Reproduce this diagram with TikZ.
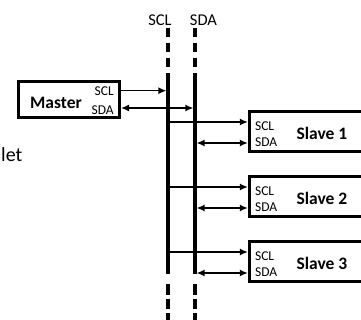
\documentclass[tikz,border=0pt]{standalone}
\usepackage{fontspec}
\setmainfont{Carlito}
\usetikzlibrary{arrows.meta,positioning}

\begin{document}
\begin{tikzpicture}[x=1pt, y=-1pt, node distance=22.5pt,
  box/.style={draw, line width=3pt, minimum width=116pt, minimum height=39.5pt, inner sep=0pt},
  port/.style={font=\fontsize{13.5}{15}\selectfont, inner sep=0pt},
  title/.style={font=\fontsize{17.5}{20}\selectfont\bfseries, inner sep=0pt},
  busname/.style={font=\fontsize{16.5}{18}\selectfont, inner sep=0pt, anchor=base},
  bus/.style={line width=3.2pt},
  sig/.style={line width=1.5pt, -{Latex[length=8pt,width=7pt]}},
  bidir/.style={line width=1.5pt, {Latex[length=8pt,width=7pt]}-{Latex[length=8pt,width=7pt]}}]
\useasboundingbox (0,0) rectangle (361,320);
\clip (0,0) rectangle (361,320);

% bus lines
\node[busname] (sclname) at (160,26) {SCL};
\node[busname] (sdaname) at (203.5,26) {SDA};
\coordinate (scl0) at (168,28);
\coordinate (scl1) at (168,80);
\coordinate (scl2) at (168,273.5);
\coordinate (scl3) at (168,284);
\coordinate (scl4) at (168,322);
\coordinate (sda0) at (195,28);
\coordinate (sda1) at (195,80);
\coordinate (sda2) at (195,273.5);
\coordinate (sda3) at (195,284);
\coordinate (sda4) at (195,322);
\draw[bus, dash pattern=on 9pt off 6pt] (scl0) -- (scl1);
\draw[bus, dash pattern=on 9pt off 6pt] (sda0) -- (sda1);
\draw[bus] (scl1) -- (scl2);
\draw[bus] (sda1) -- (sda2);
\draw[bus, dash pattern=on 10.5pt off 4pt] (scl3) -- (scl4);
\draw[bus, dash pattern=on 10.5pt off 4pt] (sda3) -- (sda4);

% master
\node[box, minimum width=101pt, minimum height=36pt] (master) at (69,99.5) {};
\node[title] (mastername) at ([xshift=-13pt, yshift=-3.5pt]master.center) {Master};
\node[port, anchor=east] (masterscl) at ([xshift=-7pt, yshift=8pt]master.east) {SCL};
\node[port, anchor=east] (mastersda) at ([xshift=-7pt, yshift=-10.5pt]master.east) {SDA};
\coordinate (masterclk) at ([yshift=8.8pt]master.east);
\coordinate (masterdat) at ([yshift=-8.5pt]master.east);
\draw[sig, shorten >=1.6pt] (masterclk) -- (masterclk -| scl1);
\draw[bidir, shorten >=1.6pt] (masterdat) -- (masterdat -| sda1);

% slaves
\node[box] (slave1) at (307.4,131.5) {};
\node[box, below=of slave1] (slave2) {};
\node[box, below=of slave2] (slave3) {};
\node[title] (slave1name) at ([xshift=14.6pt, yshift=-1.5pt]slave1.center) {Slave 1};
\node[title] (slave2name) at ([xshift=14.6pt, yshift=-1.5pt]slave2.center) {Slave 2};
\node[title] (slave3name) at ([xshift=14.6pt, yshift=-1.5pt]slave3.center) {Slave 3};
\node[port, anchor=west] (slave1scl) at ([xshift=7pt, yshift=5.5pt]slave1.west) {SCL};
\node[port, anchor=west] (slave1sda) at ([xshift=7pt, yshift=-11pt]slave1.west) {SDA};
\node[port, anchor=west] (slave2scl) at ([xshift=7pt, yshift=5.5pt]slave2.west) {SCL};
\node[port, anchor=west] (slave2sda) at ([xshift=7pt, yshift=-11pt]slave2.west) {SDA};
\node[port, anchor=west] (slave3scl) at ([xshift=7pt, yshift=5.5pt]slave3.west) {SCL};
\node[port, anchor=west] (slave3sda) at ([xshift=7pt, yshift=-11pt]slave3.west) {SDA};
\coordinate (slave1clk) at ([yshift=9.5pt]slave1.west);
\coordinate (slave1dat) at ([yshift=-11.5pt]slave1.west);
\coordinate (slave2clk) at ([yshift=9.5pt]slave2.west);
\coordinate (slave2dat) at ([yshift=-11.5pt]slave2.west);
\coordinate (slave3clk) at ([yshift=9.5pt]slave3.west);
\coordinate (slave3dat) at ([yshift=-11.5pt]slave3.west);
\draw[sig] (slave1clk -| scl1) -- (slave1clk);
\draw[bidir, shorten <=1.6pt] (slave1dat -| sda1) -- (slave1dat);
\draw[sig] (slave2clk -| scl1) -- (slave2clk);
\draw[bidir, shorten <=1.6pt] (slave2dat -| sda1) -- (slave2dat);
\draw[sig] (slave3clk -| scl1) -- (slave3clk);
\draw[bidir, shorten <=1.6pt] (slave3dat -| sda1) -- (slave3dat);

\node[font=\fontsize{20}{22}\selectfont, anchor=base west, inner sep=0pt] (cutword) at (1,162) {let};
\end{tikzpicture}
\end{document}
